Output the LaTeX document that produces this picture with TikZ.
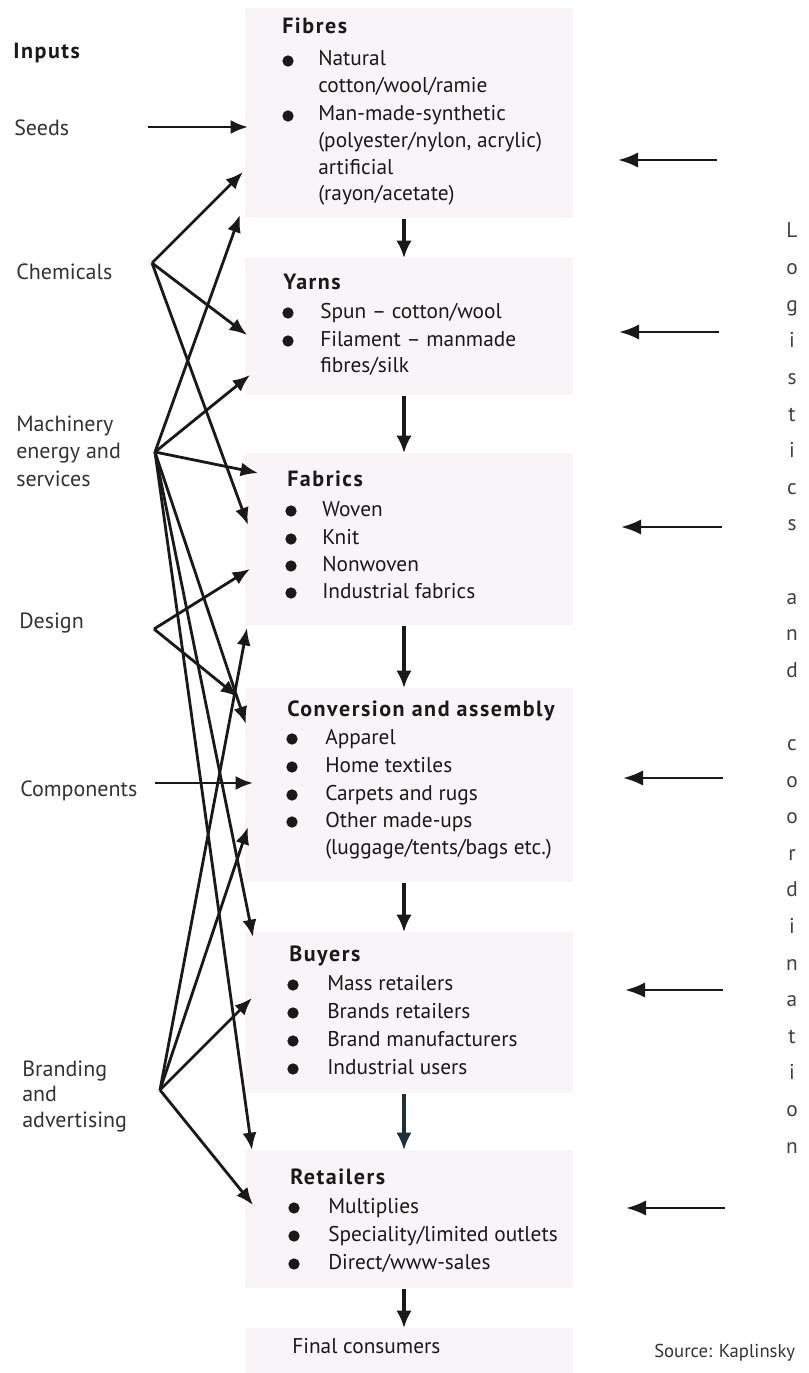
\documentclass[tikz,border=0pt]{standalone}
\usepackage{fontspec}
\setmainfont{PT Sans}
\usetikzlibrary{arrows.meta}
\definecolor{boxbg}{RGB}{248,244,248}
\definecolor{ink}{RGB}{25,25,25}
\definecolor{slate}{RGB}{30,48,60}
\begin{document}
\begin{tikzpicture}[x=0.75pt,y=-0.75pt,
  txt/.style={anchor=base west, inner sep=0pt, font=\fontsize{16}{19}\selectfont, text=ink},
  ttl/.style={txt, font=\fontsize{16.5}{19}\selectfont\addfontfeature{LetterSpace=7}\bfseries},
  lbl/.style={txt, font=\fontsize{16.5}{19}\selectfont, text=black!80},
  vlet/.style={anchor=base, inner sep=0pt, font=\fontsize{16}{19}\selectfont, text=black!75},
  boxs/.style={fill=boxbg, draw=none, inner sep=0pt, anchor=north west, minimum width=246pt},
  bul/.style={circle, fill=ink, inner sep=0pt, minimum size=8.5pt},
  inarr/.style={-{Latex[length=13pt,width=10.5pt]}, line width=2.1pt, draw=ink},
  downarr/.style={-{Latex[length=13pt,width=11.5pt]}, line width=2.4pt, draw=ink},
  logarr/.style={-{Latex[length=15pt,width=11.5pt]}, line width=2.1pt, draw=ink}
]
\useasboundingbox (0,0) rectangle (809,1373);
\fill[white] (0,0) rectangle (809,1373);

% boxes
\node[boxs, minimum height=157.5pt] (fibres) at (245,8) {};
\node[boxs, minimum height=102.75pt] (yarns) at (245,258) {};
\node[boxs, minimum height=129pt] (fabrics) at (245,453) {};
\node[boxs, minimum height=145.5pt] (conv) at (245,688) {};
\node[boxs, minimum height=120.75pt] (buyers) at (245,932) {};
\node[boxs, minimum height=103.5pt] (retail) at (245,1150) {};
\node[boxs, minimum height=33.75pt] (final) at (245,1328) {};

% box texts
\node[ttl] (t1) at (282,34) {Fibres};
\node[bul] (b11) at (288,61) {}; \node[txt] (l11) at (318,66) {Natural};
\node[txt] (l12) at (318,93) {cotton/wool/ramie};
\node[bul] (b13) at (288,116) {}; \node[txt] (l13) at (318,121) {Man-made-synthetic};
\node[txt] (l14) at (318,148) {(polyester/nylon, acrylic)};
\node[txt] (l15) at (318,175) {artificial};
\node[txt] (l16) at (318,201) {(rayon/acetate)};

\node[ttl] (t2) at (283,289) {Yarns};
\node[bul] (b21) at (288,313) {}; \node[txt] (l21) at (320,318) {Spun -- cotton/wool};
\node[bul] (b22) at (288,341) {}; \node[txt] (l22) at (320,346) {Filament -- manmade};
\node[txt] (l23) at (320,372) {fibres/silk};

\node[ttl] (t3) at (287,486) {Fabrics};
\node[bul] (b31) at (291,511) {}; \node[txt] (l31) at (322,516) {Woven};
\node[bul] (b32) at (291,539) {}; \node[txt] (l32) at (322,544) {Knit};
\node[bul] (b33) at (291,566) {}; \node[txt] (l33) at (322,571) {Nonwoven};
\node[bul] (b34) at (291,593) {}; \node[txt] (l34) at (322,598) {Industrial fabrics};

\node[ttl] (t4) at (287,716) {Conversion and assembly};
\node[bul] (b41) at (292,739) {}; \node[txt] (l41) at (325,744) {Apparel};
\node[bul] (b42) at (292,767) {}; \node[txt] (l42) at (325,772) {Home textiles};
\node[bul] (b43) at (292,795) {}; \node[txt] (l43) at (325,800) {Carpets and rugs};
\node[bul] (b44) at (292,822) {}; \node[txt] (l44) at (325,827) {Other made-ups};
\node[txt] (l45) at (325,854) {(luggage/tents/bags etc.)};

\node[ttl] (t5) at (289,961) {Buyers};
\node[bul] (b51) at (293,985) {}; \node[txt] (l51) at (327,990) {Mass retailers};
\node[bul] (b52) at (293,1013) {}; \node[txt] (l52) at (327,1018) {Brands retailers};
\node[bul] (b53) at (293,1041) {}; \node[txt] (l53) at (327,1046) {Brand manufacturers};
\node[bul] (b54) at (293,1069) {}; \node[txt] (l54) at (327,1074) {Industrial users};

\node[ttl] (t6) at (290,1184) {Retailers};
\node[bul] (b61) at (294,1208) {}; \node[txt] (l61) at (328,1213) {Multiplies};
\node[bul] (b62) at (294,1236) {}; \node[txt] (l62) at (328,1241) {Speciality/limited outlets};
\node[bul] (b63) at (294,1264) {}; \node[txt] (l63) at (328,1269) {Direct/www-sales};

\node[txt] (t7) at (292,1353) {Final consumers};

% chain arrows
\coordinate (dx) at (404,0);
\draw[downarr] (fibres.south -| dx) -- (yarns.north -| dx);
\draw[downarr] (yarns.south -| dx) -- (fabrics.north -| dx);
\draw[downarr] (fabrics.south -| dx) -- (conv.north -| dx);
\draw[downarr] (conv.south -| dx) -- (buyers.north -| dx);
\draw[downarr, draw=slate] (buyers.south -| dx) -- (retail.north -| dx);
\draw[downarr] (retail.south -| dx) -- (final.north -| dx);

% inputs
\node[ttl, text=ink] (inputs) at (13,59) {Inputs};
\node[lbl] (seeds) at (14,136) {Seeds};
\node[lbl] (chem) at (16,279) {Chemicals};
\node[lbl] (mach1) at (16,431) {Machinery};
\node[lbl] (mach2) at (16,458) {energy and};
\node[lbl] (mach3) at (16,486) {services};
\node[lbl] (design) at (19,628) {Design};
\node[lbl] (comp) at (20,796) {Components};
\node[lbl] (brand1) at (22,1076) {Branding};
\node[lbl] (brand2) at (22,1101) {and};
\node[lbl] (brand3) at (22,1127) {advertising};

% apexes
\coordinate (aseed) at (148,127);
\coordinate (achem) at (152,263);
\coordinate (amach) at (155,452);
\coordinate (adesign) at (154,629);
\coordinate (acomp) at (155,783);
\coordinate (abrand) at (160,1090);

% tips
\coordinate (tseed) at (248,127);
\coordinate (tc1) at (243,172);
\coordinate (tc2) at (247,335);
\coordinate (tc3) at (248,525);
\coordinate (tm1) at (240,215);
\coordinate (tm2) at (250,375);
\coordinate (tm3) at (258,473);
\coordinate (tm4) at (246,724);
\coordinate (tm5) at (253,937);
\coordinate (tm6) at (252,1150);
\coordinate (td1) at (250,569);
\coordinate (td2) at (238,697);
\coordinate (tcomp) at (253,783);
\coordinate (tb1) at (247,628);
\coordinate (tb2) at (248,827);
\coordinate (tb3) at (252,998);
\coordinate (tb4) at (253,1205);

\draw[inarr] (aseed) -- (tseed);
\draw[inarr] (achem) -- (tc1);
\draw[inarr] (achem) -- (tc2);
\draw[inarr] (achem) -- (tc3);
\draw[inarr] (amach) -- (tm1);
\draw[inarr] (amach) -- (tm2);
\draw[inarr] (amach) -- (tm3);
\draw[inarr] (amach) -- (tm4);
\draw[inarr] (amach) -- (tm5);
\draw[inarr] (amach) -- (tm6);
\draw[inarr] (adesign) -- (td1);
\draw[inarr] (adesign) -- (td2);
\draw[inarr] (acomp) -- (tcomp);
\draw[inarr] (abrand) -- (tb1);
\draw[inarr] (abrand) -- (tb2);
\draw[inarr] (abrand) -- (tb3);
\draw[inarr] (abrand) -- (tb4);

% logistics arrows
\coordinate (r1) at (717,160); \coordinate (e1) at (618,160);
\coordinate (r2) at (719,332); \coordinate (e2) at (619,332);
\coordinate (r3) at (722,527); \coordinate (e3) at (621,527);
\coordinate (r4) at (723,778); \coordinate (e4) at (623,778);
\coordinate (r5) at (723,990); \coordinate (e5) at (625,990);
\coordinate (r6) at (725,1208); \coordinate (e6) at (626,1208);
\foreach \k in {1,...,6} { \draw[logarr] (r\k) -- (e\k); }

% vertical text
\foreach \ch/\k in {L/0,o/1,g/2,i/3,s/4,t/5,i/6,c/7,s/8,a/10,n/11,d/12,c/14,o/15,o/16,r/17,d/18,i/19,n/20,a/21,t/22,i/23,o/24,n/25}
  { \node[vlet] (v\k) at (792,{238+36.6*\k}) {\ch}; }

\node[txt, font=\fontsize{14}{17}\selectfont, text=black!80] (src) at (654,1357) {Source: Kaplinsky};
\end{tikzpicture}
\end{document}
